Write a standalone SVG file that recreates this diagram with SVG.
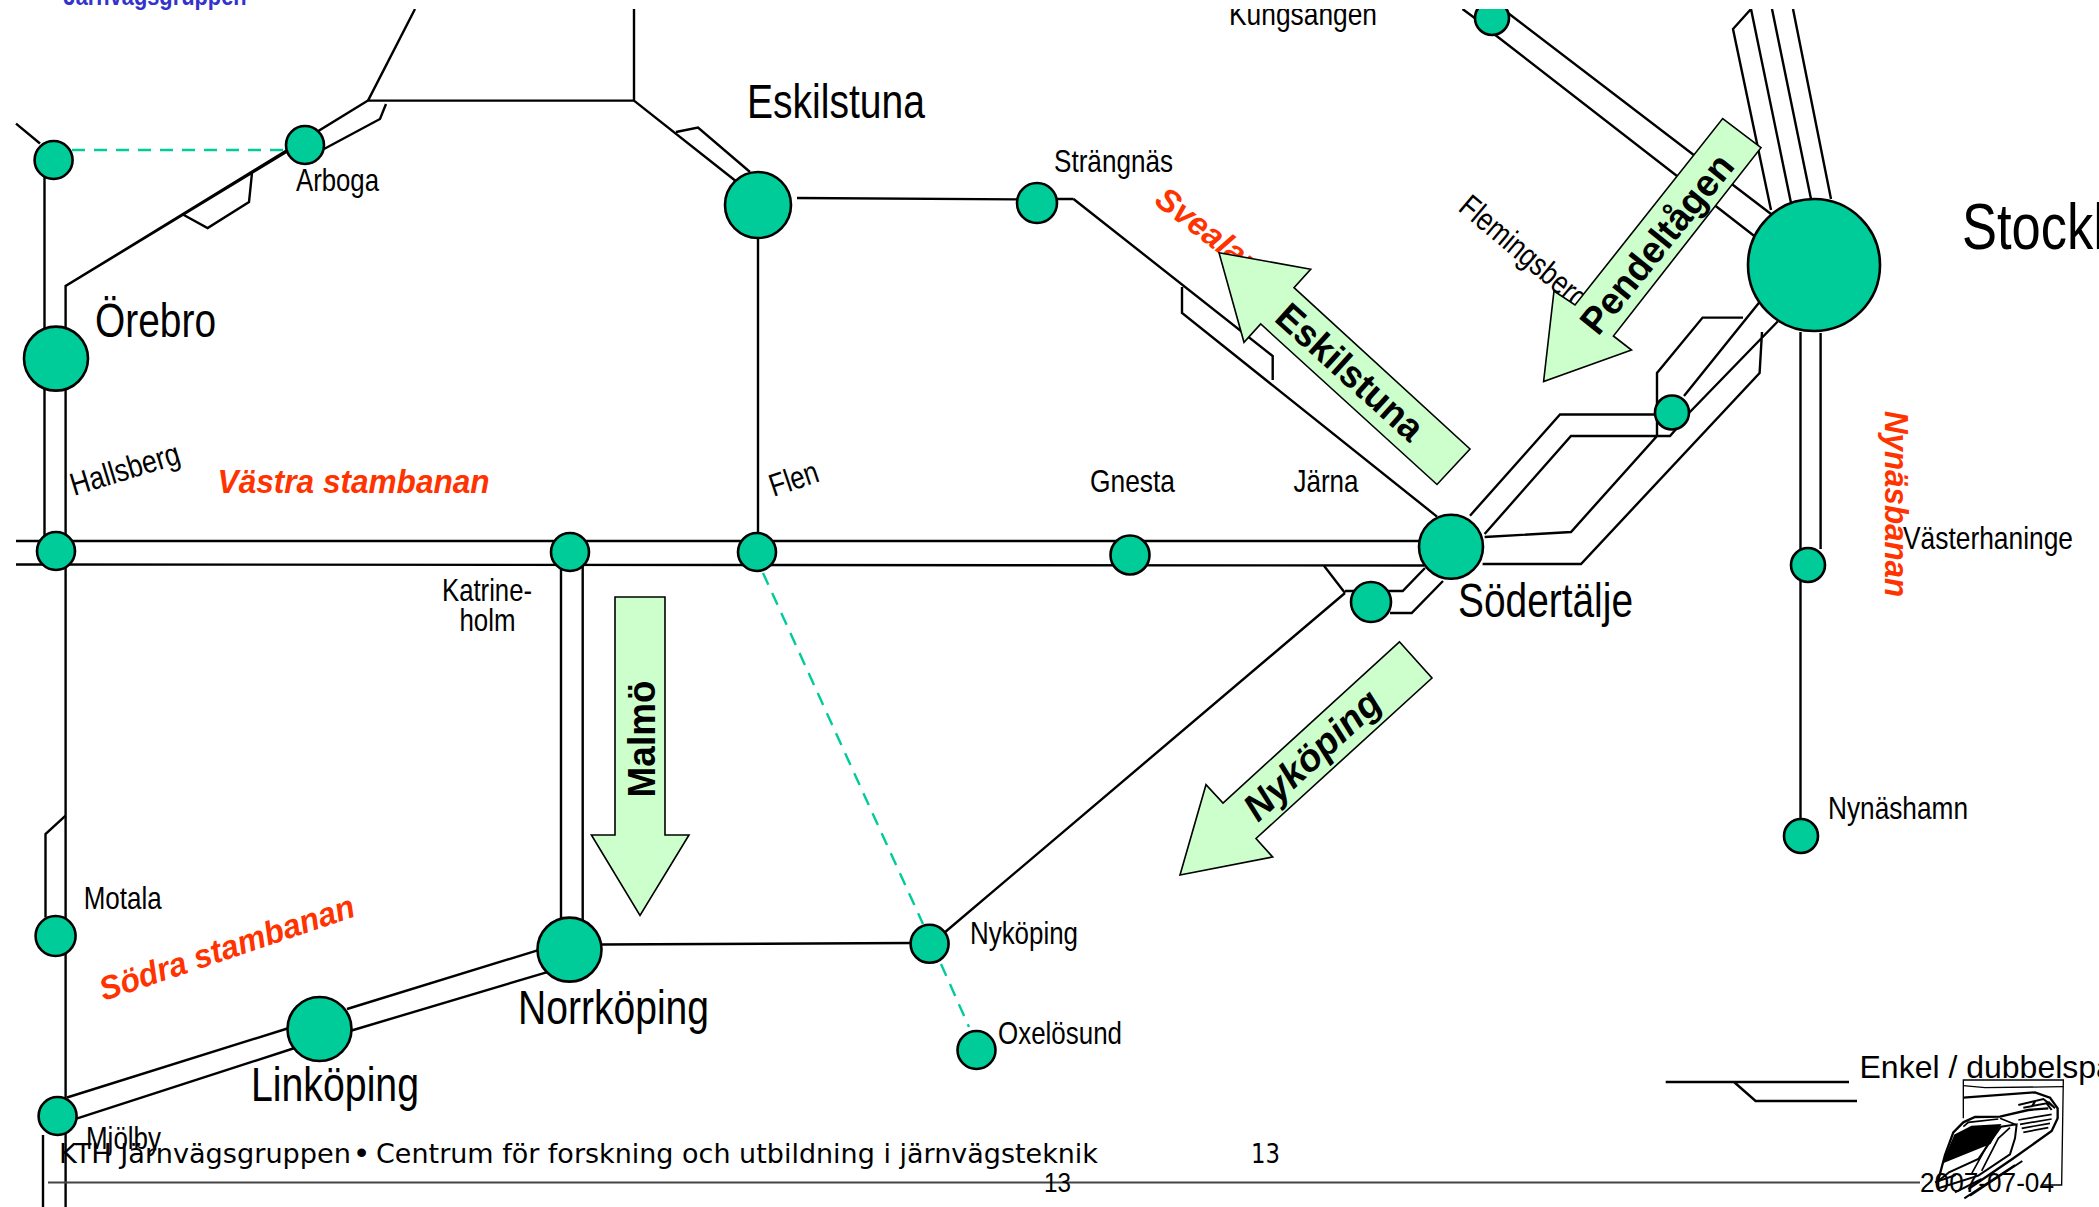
<svg xmlns="http://www.w3.org/2000/svg" width="2099" height="1207" viewBox="0 0 2099 1207">
<style>
.t{fill:none;stroke:#000;stroke-width:2.4;stroke-linejoin:miter}
.d{fill:none;stroke:#00CC99;stroke-width:2.4;stroke-dasharray:13 9}
.n{fill:#00CC99;stroke:#000;stroke-width:2.6}
.a{fill:#CCFFCC;stroke:#000;stroke-width:1.6}
text{font-family:"Liberation Sans",Arial,sans-serif;fill:#000}
.s{font-size:32px}.b{font-size:48px}
.r{font-size:33px;font-weight:bold;font-style:italic;fill:#FF3300}
.l{font-size:38px;font-weight:bold}
.f{font-family:"DejaVu Sans",sans-serif;font-size:27px}
</style>
<rect width="2099" height="1207" fill="#fff"/>
<g id="connectors">
<path class="t" d="M415 9L368 100.6H634V9M634 100.6L737 182M676 132L698 127.5L750 172M797 198L1017 199.4M758 237V532"/>
<path class="t" d="M65.6 1207V286L368 100.6M288 151L65.6 286M324 149L380 119L386 104M182 214L207.6 228L249 202L252 173M16 123.6L40 143.5M44.5 160V551"/>
<path class="t" d="M16 541H1420M16 564.5L1424 565.5M561 565V925M582.7 565V925"/>
<path class="t" d="M1073.5 199L1272.7 356V380M1182 287V313L1437 516.6M1036 199H1073.5"/>
<path class="t" d="M1324 565.7L1345 593M1345 591H1402.7L1425 568M1390 613H1411.7L1443 581M944 933L1345 593"/>
<path class="t" d="M1470 515.7L1560 414.5H1657M1484.6 534L1571 436H1670L1684 420M1484.6 537L1571 532L1657 436V373L1702.6 317.6H1743M1482.6 564H1581L1759.6 373L1762 332M1684 396L1759.6 302M1687 415L1777.7 321.5"/>
<path class="t" d="M1800.5 332V819M1820.6 333V549M1462.5 9L1476 19M1508 13L1771 214M1494 34L1755.6 237M1751 9L1733 29L1771 210M1751 9L1791 203M1772 9L1811 199M1793 9L1831 199"/>
<path class="t" d="M67 1097.5L289 1028M347 1009L540 949.6M75.7 1118.8L294.7 1048M351.6 1030.5L549 971.6M600.8 944.5L912 943M65.6 815.6L45.5 834V917.5M43 1135V1207"/>
<path class="d" d="M72 150H287M763 573L923 924M941 964L969 1027"/>
</g>
<g id="arboga"><circle class="n" cx="305" cy="145" r="19"/><text class="s" x="296" y="191" textLength="83" lengthAdjust="spacingAndGlyphs">Arboga</text></g>
<g id="vasteras"><circle class="n" cx="53.6" cy="160" r="19"/></g>
<g id="orebro"><circle class="n" cx="56" cy="358.6" r="32"/><text class="b" x="95" y="337" textLength="121" lengthAdjust="spacingAndGlyphs">Örebro</text></g>
<g id="hallsberg"><circle class="n" cx="56" cy="551" r="19"/><text class="s" transform="translate(74 496) rotate(-17)" textLength="113" lengthAdjust="spacingAndGlyphs">Hallsberg</text></g>
<g id="katrineholm"><circle class="n" cx="570" cy="552" r="19"/><text class="s" x="442" y="600.5" textLength="90" lengthAdjust="spacingAndGlyphs">Katrine-</text><text class="s" x="459.5" y="631" textLength="56" lengthAdjust="spacingAndGlyphs">holm</text></g>
<g id="flen"><circle class="n" cx="757" cy="552" r="19"/><text class="s" transform="translate(773.5 497) rotate(-18.6)" textLength="50" lengthAdjust="spacingAndGlyphs">Flen</text></g>
<g id="eskilstuna"><circle class="n" cx="758" cy="205" r="33"/><text class="b" x="747" y="118" textLength="178" lengthAdjust="spacingAndGlyphs">Eskilstuna</text></g>
<g id="strangnas"><circle class="n" cx="1037" cy="203" r="20"/><text class="s" x="1054" y="172" textLength="119" lengthAdjust="spacingAndGlyphs">Strängnäs</text></g>
<g id="gnesta"><circle class="n" cx="1130" cy="555" r="19.5"/><text class="s" x="1090" y="492" textLength="85" lengthAdjust="spacingAndGlyphs">Gnesta</text></g>
<text id="jarna" class="s" x="1293.5" y="492" textLength="65" lengthAdjust="spacingAndGlyphs">Järna</text>
<g id="sodertalje"><circle class="n" cx="1451" cy="546.7" r="32"/><text class="b" x="1458" y="617" textLength="175" lengthAdjust="spacingAndGlyphs">Södertälje</text></g>
<g id="ostertalje"><circle class="n" cx="1371" cy="602" r="20"/></g>
<g id="tullinge"><circle class="n" cx="1672" cy="412.5" r="17"/></g>
<g id="stockholm"><circle class="n" cx="1814" cy="265" r="66"/><text x="1962" y="249" font-size="64" textLength="245" lengthAdjust="spacingAndGlyphs">Stockholm</text></g>
<g id="kungsangen"><circle class="n" cx="1492" cy="18" r="17"/><text class="s" x="1229" y="25" textLength="148" lengthAdjust="spacingAndGlyphs">Kungsängen</text></g>
<g id="vasterhaninge"><circle class="n" cx="1808" cy="565" r="17"/><text class="s" x="1903" y="549" textLength="170" lengthAdjust="spacingAndGlyphs">Västerhaninge</text></g>
<g id="nynashamn"><circle class="n" cx="1801" cy="836" r="17"/><text class="s" x="1828" y="819" textLength="140" lengthAdjust="spacingAndGlyphs">Nynäshamn</text></g>
<g id="motala"><circle class="n" cx="55.6" cy="936" r="20"/><text class="s" x="83.7" y="908.6" textLength="78" lengthAdjust="spacingAndGlyphs">Motala</text></g>
<g id="mjolby"><circle class="n" cx="57.6" cy="1116" r="19"/><text class="s" x="86" y="1149" textLength="75" lengthAdjust="spacingAndGlyphs">Mjölby</text></g>
<g id="linkoping"><circle class="n" cx="319.5" cy="1029" r="32"/><text class="b" x="251" y="1101" textLength="168" lengthAdjust="spacingAndGlyphs">Linköping</text></g>
<g id="norrkoping"><circle class="n" cx="569.5" cy="949.6" r="32"/><text class="b" x="518" y="1024" textLength="191" lengthAdjust="spacingAndGlyphs">Norrköping</text></g>
<g id="nykoping"><circle class="n" cx="929.6" cy="943.8" r="19"/><text class="s" x="970" y="943.8" textLength="108" lengthAdjust="spacingAndGlyphs">Nyköping</text></g>
<g id="oxelosund"><circle class="n" cx="976.5" cy="1050" r="19"/><text class="s" x="998" y="1044" textLength="124" lengthAdjust="spacingAndGlyphs">Oxelösund</text></g>
<g id="line-labels">
<text class="r" x="217.6" y="493" textLength="272" lengthAdjust="spacingAndGlyphs">Västra stambanan</text>
<text class="r" transform="translate(103.8 1001) rotate(-18.6)" textLength="267" lengthAdjust="spacingAndGlyphs">Södra stambanan</text>
<text class="r" transform="translate(1885 411) rotate(90)" textLength="186" lengthAdjust="spacingAndGlyphs">Nynäsbanan</text>
<text class="r" transform="translate(1153 203) rotate(37.5)">Svealan</text>
<text class="s" transform="translate(1457 209.7) rotate(40)" textLength="157" lengthAdjust="spacingAndGlyphs">Flemingsberg</text>
</g>
<g id="arrow-eskilstuna"><polygon class="a" points="1219,252.7 1310.7,269.3 1294,287.7 1470,449 1437,484.5 1260.7,324 1244,342.3"/><text class="l" transform="translate(1273 320) rotate(42)" textLength="184" lengthAdjust="spacingAndGlyphs">Eskilstuna</text></g>
<g id="arrow-pendeltagen"><polygon class="a" points="1722.7,118.6 1761,147.7 1613.4,336 1631.5,350 1543.6,381.5 1554,291 1575,305"/><text class="l" transform="translate(1598 337) rotate(-51)" textLength="219" lengthAdjust="spacingAndGlyphs">Pendeltågen</text></g>
<g id="arrow-nykoping"><polygon class="a" points="1399.4,641.8 1432,678 1256,838.5 1272.7,857 1180,875 1206,784.7 1223,803"/><text class="l" font-style="italic" transform="translate(1258 823) rotate(-43)" textLength="172" lengthAdjust="spacingAndGlyphs">Nyköping</text></g>
<g id="arrow-malmo"><polygon class="a" points="615,597 665,597 665,835 689,835 640,915.5 591.4,835 615,835"/><text class="l" transform="translate(655 797.4) rotate(-90)" textLength="117" lengthAdjust="spacingAndGlyphs">Malmö</text></g>
<rect id="top-band" width="2099" height="9" fill="#fff"/>
<text id="kth-top" x="63.6" y="5" font-size="26" font-weight="bold" style="fill:#3333CC" textLength="183" lengthAdjust="spacingAndGlyphs">Järnvägsgruppen</text>
<g id="legend">
<path class="t" d="M1665.7 1082H1849M1734 1082L1755.6 1101H1857"/>
<text x="1859.5" y="1078" font-size="32">Enkel / dubbelspår</text>
</g>
<g id="train" transform="translate(1935 1075) scale(.3333)" fill="none" stroke="#000" stroke-width="5">
<path d="M85 130V15H385L380 330H320" stroke-width="4"/>
<path d="M85 32L150 38L385 35" stroke-width="4"/>
<path d="M85 68L300 52L345 68L368 100L368 130L350 168L232 252L100 342" stroke-width="7"/>
<path d="M250 90L325 72L355 95M265 98L335 85L350 105M290 95L300 80M340 80L360 100" stroke-width="6"/>
<path d="M10 315L30 240L55 172L85 142L120 126L195 125L280 105L340 100" stroke-width="7"/>
<path d="M25 262L60 180L110 155L195 150L165 205Z" fill="#000"/>
<path d="M10 318L42 292L130 252L160 208L198 155L245 148L240 190L225 238L130 302L10 340Z" stroke-width="6"/>
<path d="M195 130L245 150M85 155L100 142L190 132M140 288L190 190L225 158M110 296L160 205M250 135L350 118M255 148L350 132M260 160L345 145M265 172L340 158" stroke-width="5"/>
<path d="M0 322L62 300M60 352L140 312M88 370L240 270M105 362L262 258" stroke-width="6"/>
</g>
<g id="footer">
<path d="M48 1182.6H1920" stroke="#444" stroke-width="2" fill="none"/>
<text class="f" y="1163"><tspan x="59" textLength="292" lengthAdjust="spacingAndGlyphs">KTH Järnvägsgruppen</tspan> <tspan x="356" font-size="32" font-family="Liberation Sans">•</tspan> <tspan x="376" textLength="722" lengthAdjust="spacingAndGlyphs">Centrum för forskning och utbildning i järnvägsteknik</tspan></text>
<text class="f" x="1251" y="1163" textLength="29" lengthAdjust="spacingAndGlyphs">13</text>
<text x="1044" y="1192" font-size="27" textLength="27" lengthAdjust="spacingAndGlyphs">13</text>
<text x="1920" y="1192" font-size="27" textLength="134" lengthAdjust="spacingAndGlyphs">2007-07-04</text>
</g>
</svg>
